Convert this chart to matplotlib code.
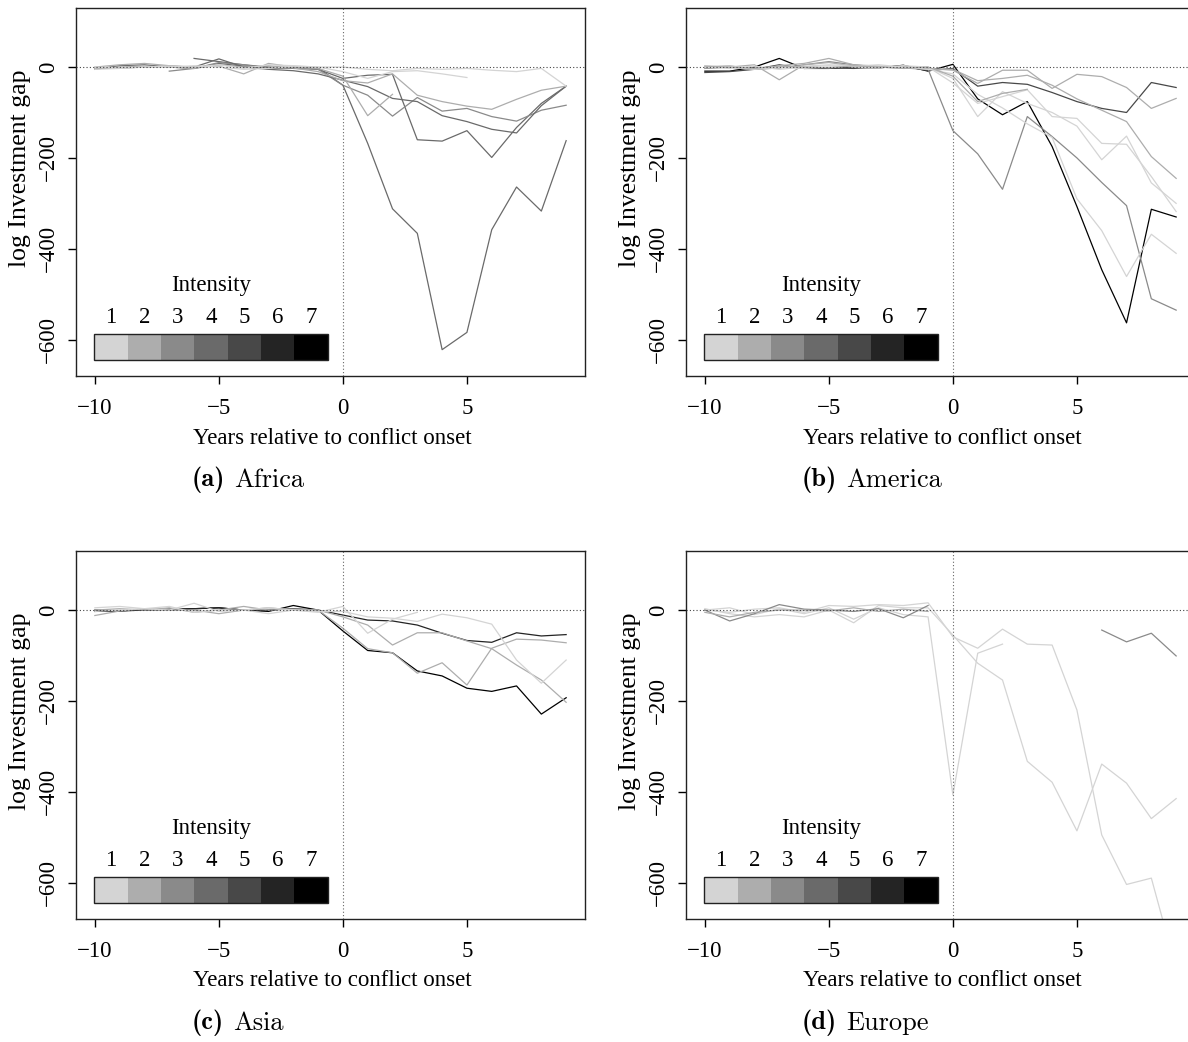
import numpy as np
import matplotlib
matplotlib.use('Agg')  # Headless mode
import matplotlib.pyplot as plt
from matplotlib.patches import Rectangle

plt.rcParams['font.family'] = 'Liberation Serif'

nan = np.nan
years = np.arange(-10, 10)

intensity_levels = [1, 2, 3, 4, 5, 6, 7]
intensity_colors = ['#d4d4d4', '#adadad', '#8a8a8a', '#6a6a6a', '#484848', '#242424', '#000000']

# log investment gap per country, years -10 .. 9
africa_series = [
    [-5, 3, 5, 0, -3, 8, 2, -4, 0, -2, -40, -168, -312, -366, -622, -584, -358, -264, -317, -162],
    [nan, nan, nan, nan, 19, 12, 5, 0, -3, -5, -25, -18, -16, -160, -163, -140, -199, -133, -80, -42],
    [nan, nan, nan, -9, -3, 10, 5, -2, 0, -5, -40, -62, -108, -67, -97, -91, -109, -119, -95, -84],
    [-3, -2, 0, 2, 0, 18, 0, -5, -8, -15, -29, -43, -69, -76, -107, -120, -137, -145, -85, -42],
    [0, 5, 8, 3, 0, 2, -15, 8, 0, -3, -20, -107, -60, nan, nan, nan, nan, nan, nan, nan],
    [-3, 0, 2, 0, -3, 5, 0, 3, -2, -10, -30, -35, -15, -62, -76, -86, -93, -71, -51, -42],
    [-5, -3, 0, 2, 0, 5, -3, 5, 3, 0, -10, -25, -10, -8, -15, -23, nan, nan, nan, nan],
    [0, -2, 0, 0, 3, 0, -5, -3, 2, 0, 0, -5, -8, -3, -5, -3, -7, -10, -3, -42],
]
africa_intensity = [4, 4, 3, 4, 2, 2, 1, 1]

america_series = [
    [-9, -9, 0, 19, -3, -3, 0, -2, 4, -9, 6, -70, -105, -76, -175, -307, -446, -563, -313, -330],
    [-12, -10, -5, 5, -3, -2, -3, 0, 2, -8, -3, -42, -34, -38, -56, -76, -91, -100, -34, -45],
    [-3, 0, -5, -2, 5, 12, 5, 0, -2, -5, -140, -191, -269, -109, -153, -200, -254, -305, -510, -535],
    [0, 3, -5, 3, 8, 19, 5, 2, 0, -3, -7, -36, -7, -7, -47, -16, -21, -45, -91, -69],
    [-2, 0, 5, -28, 5, 10, 2, -2, 3, -5, -5, -30, -25, -18, -40, -70, -95, -120, -197, -245],
    [0, 2, -3, 0, 2, 5, 3, 0, -2, 0, -25, -109, -54, -80, -100, -130, -204, -152, -255, -300],
    [3, 0, -5, 0, -3, 0, 2, 5, 0, -5, -15, -60, -90, -125, -155, -290, -360, -461, -368, -410],
    [0, -3, 2, -5, 0, 3, 0, -2, 3, 0, -35, -80, -65, -50, -109, -113, -168, -170, -241, -318],
    [2, 0, -3, 2, 0, -2, 3, 0, -3, 0, -20, -76, -58, -49, nan, nan, nan, nan, nan, nan],
]
america_intensity = [7, 5, 3, 2, 2, 1, 1, 1, 2]

asia_series = [
    [-3, -2, 0, 2, 3, 5, 0, -3, 10, 0, -46, -89, -94, -134, -145, -172, -179, -167, -229, -193],
    [0, -2, 2, 0, 3, 5, 0, 0, 3, 0, -11, -22, -24, -33, -51, -67, -71, -50, -57, -54],
    [-12, -2, 3, 0, 0, -8, 0, 5, 0, 0, -15, -33, -77, -50, -50, -68, -85, -121, -154, -203],
    [0, 3, 0, 5, -5, 0, 8, 0, 2, 0, -40, -85, -94, -139, -116, -165, -84, -64, -66, -72],
    [5, 8, 3, 0, 15, -3, 0, -8, 0, -5, 8, -51, -20, -5, nan, nan, nan, nan, nan, nan],
    [-3, 0, 3, 8, -5, 0, 0, 5, 0, -3, -3, -15, -18, -25, -9, -17, -31, -110, -161, -110],
]
asia_intensity = [7, 6, 2, 2, 1, 1]

europe_series = [
    [0, 5, -10, 3, -8, 5, -20, 5, -10, -15, -407, -95, -75, nan, nan, nan, nan, nan, nan, nan],
    [0, -5, 2, 5, -5, 10, 8, 12, 10, 16, -59, -84, -42, -75, -77, -220, -495, -604, -590, -790],
    [3, -8, -15, -10, -15, 0, -28, 10, 5, 5, -55, -117, -154, -333, -379, -486, -339, -381, -459, -415],
    [0, -24, -8, 12, 2, 0, -3, 3, -17, 10, nan, nan, nan, nan, nan, nan, -44, -70, -51, -101],
    [-5, -15, -5, 0, 0, -2, 5, -3, 2, -3, nan, nan, nan, nan, nan, nan, nan, nan, nan, nan],
]
europe_intensity = [1, 1, 1, 3, 2]

panels = [
    ('(a)', 'Africa', africa_series, africa_intensity, 0, 0),
    ('(b)', 'America', america_series, america_intensity, 1, 0),
    ('(c)', 'Asia', asia_series, asia_intensity, 0, 1),
    ('(d)', 'Europe', europe_series, europe_intensity, 1, 1),
]

W, H = 1188, 1042
fig = plt.figure(figsize=(W / 100, H / 100), dpi=100)
renderer = fig.canvas.get_renderer()


def fx(px):
    return px / W


def fy(py):
    return 1 - py / H


for tag, region, series, levels, col, row in panels:
    dx, dy = 610 * col, 543 * row
    ax = fig.add_axes([fx(76 + dx), fy(376 + dy), 509 / W, 368 / H])

    for vals, lvl in zip(series, levels):
        ax.plot(years, vals, color=intensity_colors[lvl - 1], lw=0.9)

    ax.axhline(0, color='#444444', lw=0.8, ls=(0, (1, 2)))
    ax.axvline(0, color='#666666', lw=0.8, ls=(0, (1, 2)))

    ax.set_xlim(-10.76, 9.76)
    ax.set_ylim(-680, 130)
    ax.set_xticks([-10, -5, 0, 5])
    ax.set_yticks([-600, -400, -200, 0])
    ax.tick_params(direction='out', length=6, width=1, labelsize=16.5, colors='black')
    ax.tick_params(axis='x', pad=10)
    ax.tick_params(axis='y', pad=6)
    plt.setp(ax.get_yticklabels(), rotation=90, va='center')
    for sp in ax.spines.values():
        sp.set_linewidth(1)
        sp.set_color('#222222')

    # intensity key
    x0, sw, y0, sh = 0.036, 0.0655, 0.0435, 0.0707
    for i, (lvl, c) in enumerate(zip(intensity_levels, intensity_colors)):
        ax.add_patch(Rectangle((x0 + i * sw, y0), sw, sh, transform=ax.transAxes,
                               facecolor=c, edgecolor='none', zorder=5))
        ax.text(x0 + (i + 0.5) * sw, 0.158, str(lvl), transform=ax.transAxes,
                ha='center', va='center', fontsize=16.5)
    ax.add_patch(Rectangle((x0, y0), 7 * sw, sh, transform=ax.transAxes,
                           facecolor='none', edgecolor='#222222', lw=1, zorder=6))
    ax.text(x0 + 3.5 * sw, 0.245, 'Intensity', transform=ax.transAxes,
            ha='center', va='center', fontsize=16.5)

    fig.text(fx(332 + dx), fy(438 + dy), 'Years relative to conflict onset',
             ha='center', va='center', fontsize=16.5)
    fig.text(fx(20 + dx), fy(168 + dy), 'log Investment gap', rotation=90,
             ha='center', va='center', fontsize=18.5)

    # subfigure caption: bold tag followed by the region name
    t = fig.text(fx(192 + dx), fy(480 + dy), tag, family='cmb10',
                 ha='left', va='center', fontsize=19)
    bb = t.get_window_extent(renderer=renderer)
    fig.text((bb.x1 + 9) / W, fy(480 + dy), region, family='cmr10',
             ha='left', va='center', fontsize=19)

fig.savefig('out.png', dpi=100)
plt.close(fig)
